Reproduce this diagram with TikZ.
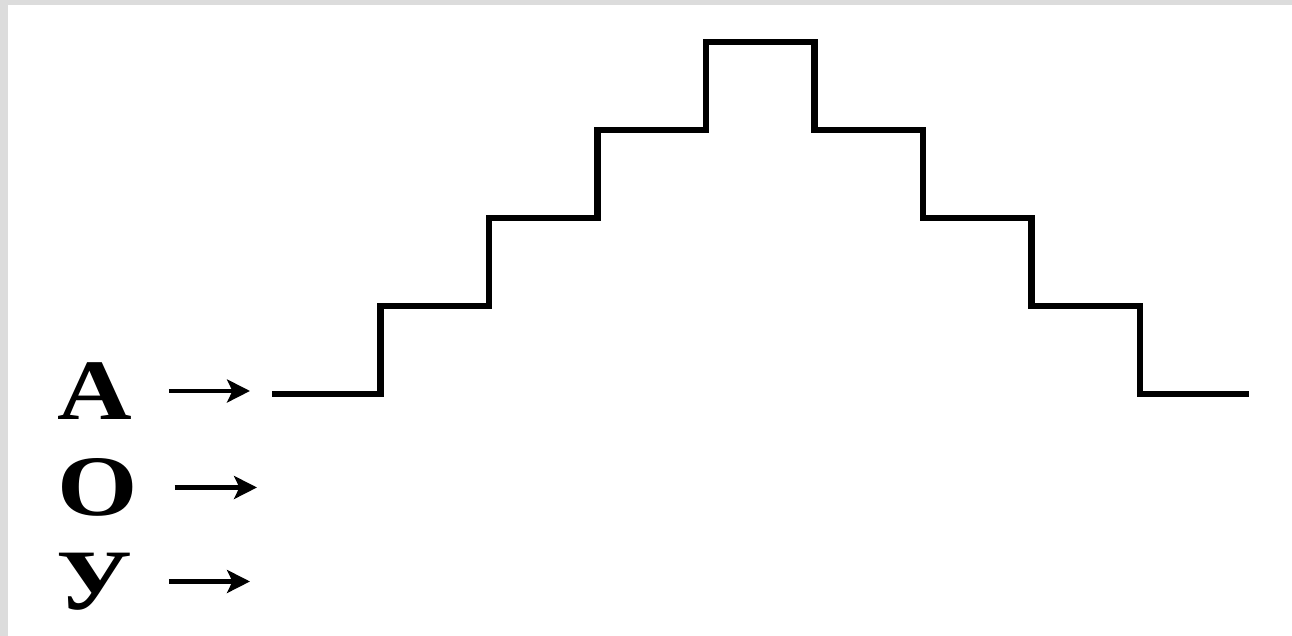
\documentclass[tikz,border=0pt]{standalone}
\usepackage{fontspec}
\setmainfont{Liberation Serif}
\usetikzlibrary{arrows.meta}
\definecolor{framegray}{HTML}{DCDCDC}
\begin{document}
\begin{tikzpicture}[
    letter/.style = {font = \fontsize{24.5}{28}\selectfont\bfseries,
                     inner sep = 0, outer sep = 0, xscale = 1.2,
                     text height = 16.2pt, text depth = 0pt},
    pointer/.style = {line width = 1.3pt, shorten <= .37cm,
                      -{Stealth[length = 6.5pt, width = 6.5pt, inset = 1.5pt]}},
    stairs/.style = {line width = 1.85pt, line join = miter}
  ]
  \useasboundingbox (0,0) rectangle (12.92,6.36);
  \fill [framegray] (0,0) rectangle (.08,6.36);
  \fill [framegray] (0,6.31) rectangle (12.92,6.36);
  \node [letter] (la) at (.945,2.45) {А};
  \node [letter] (lo) at (.975,1.485) {О};
  \node [letter] (lu) at (.94,.545) {У};
  \coordinate (pa) at (2.50,2.45);
  \coordinate (po) at (2.57,1.485);
  \coordinate (pu) at (2.50,.545);
  \foreach \l/\p in {la/pa, lo/po, lu/pu}
    \draw [pointer] (\l) -- (\p);
  \coordinate (s0) at (2.72,2.42);
  \draw [stairs] (s0)
    \foreach \i in {1,...,4} { --++ (1.085,0) --++ (0,.88) }
    --++ (1.085,0)
    \foreach \i in {1,...,4} { --++ (0,-.88) --++ (1.085,0) };
\end{tikzpicture}
\end{document}
